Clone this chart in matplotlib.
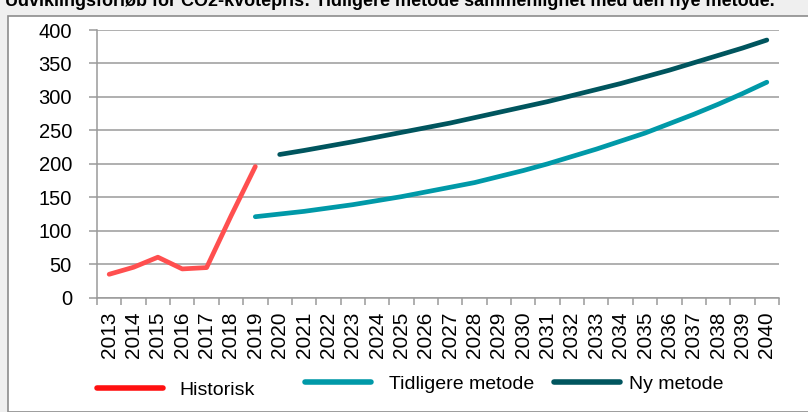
import numpy as np
import matplotlib.pyplot as plt
from matplotlib.lines import Line2D
from matplotlib.patches import Rectangle

years = [str(y) for y in range(2013, 2041)]

# Historisk 2013-2019
hist_years = years[:7]
historisk = [35, 45.5, 60.5, 43, 45, 122, 196]

# Tidligere metode 2019-2040
tidl_years = years[6:]
tidligere = [121, 125, 129, 134, 139, 145, 151, 158, 165, 172, 181,
             190, 200, 211, 222, 234, 246, 260, 274, 289, 305, 322]

# Ny metode 2020-2040
ny_years = years[7:]
ny_metode = [214, 220, 226.5, 233, 240, 247, 254, 261, 269, 277, 285,
             293, 302, 311, 320, 330, 340, 351, 362, 373, 385]

title = "Udviklingsforløb for CO2-kvotepris: Tidligere metode sammenlignet med den nye metode."

RED = "#FF4F4F"
RED_LEG = "#FF1010"
TEAL = "#0099A8"
DARK = "#00555E"
GRID = "#9A9A9A"

plt.rcParams['font.family'] = ['Liberation Sans', 'DejaVu Sans']

W, H = 808, 412
fig = plt.figure(figsize=(W / 100, H / 100), dpi=100)
fig.patch.set_facecolor("#EFEFEF")

# white chart box with grey border
box = Rectangle((8 / W, 0), 1.0, 1 - 16 / H, transform=fig.transFigure,
                facecolor="white", edgecolor="#8C8C8C", linewidth=1.2, zorder=-10)
fig.patches.append(box)

# title is cut off at the top like in the original
fig.text(5 / W, 1 - 6 / H, title, fontsize=13, fontweight="bold",
         ha="left", va="baseline")

ax = fig.add_axes([97 / W, 1 - 297.7 / H, (779 - 97) / W, (297.7 - 30) / H])
ax.set_facecolor("none")
ax.set_zorder(1)

x_all = np.arange(len(years))
pos = {y: i for i, y in enumerate(years)}

ax.plot([pos[y] for y in hist_years], historisk, color=RED, lw=3.4,
        solid_capstyle="round", solid_joinstyle="round")
ax.plot([pos[y] for y in tidl_years], tidligere, color=TEAL, lw=3.4,
        solid_capstyle="round", solid_joinstyle="round")
ax.plot([pos[y] for y in ny_years], ny_metode, color=DARK, lw=3.4,
        solid_capstyle="round", solid_joinstyle="round")

ax.set_xlim(-0.5, len(years) - 0.5)
ax.set_ylim(0, 400)
ax.set_yticks(range(0, 401, 50))
ax.yaxis.grid(True, color=GRID, lw=1.1)
ax.set_axisbelow(True)

ax.set_xticks(x_all)
ax.set_xticklabels(years, rotation=90, fontsize=15)
ax.set_xticks(np.arange(-0.5, len(years), 1), minor=True)
ax.tick_params(axis="x", which="major", length=0, pad=10)
ax.tick_params(axis="x", which="minor", length=5, width=1.1, color=GRID)
ax.tick_params(axis="y", length=6, width=1.1, color=GRID, labelsize=14.5, pad=12)

for s in ["top", "right"]:
    ax.spines[s].set_visible(False)
for s in ["left", "bottom"]:
    ax.spines[s].set_color(GRID)
    ax.spines[s].set_linewidth(1.1)

# legend entries placed separately like the original
entries = [
    ("Historisk", RED_LEG, 97, 390, 0.85),
    ("Tidligere metode", TEAL, 305, 384, 0.9),
    ("Ny metode", DARK, 554, 384, 0.45),
]
for label, col, x0, y0, tp in entries:
    h = Line2D([], [], color=col, lw=4, solid_capstyle="round")
    fig.legend([h], [label], loc="center left",
               bbox_to_anchor=(x0 / W, 1 - y0 / H), frameon=False,
               fontsize=14, handlelength=3.4, handletextpad=tp,
               borderpad=0, borderaxespad=0)

fig.savefig("out.png", dpi=100, facecolor=fig.get_facecolor())
